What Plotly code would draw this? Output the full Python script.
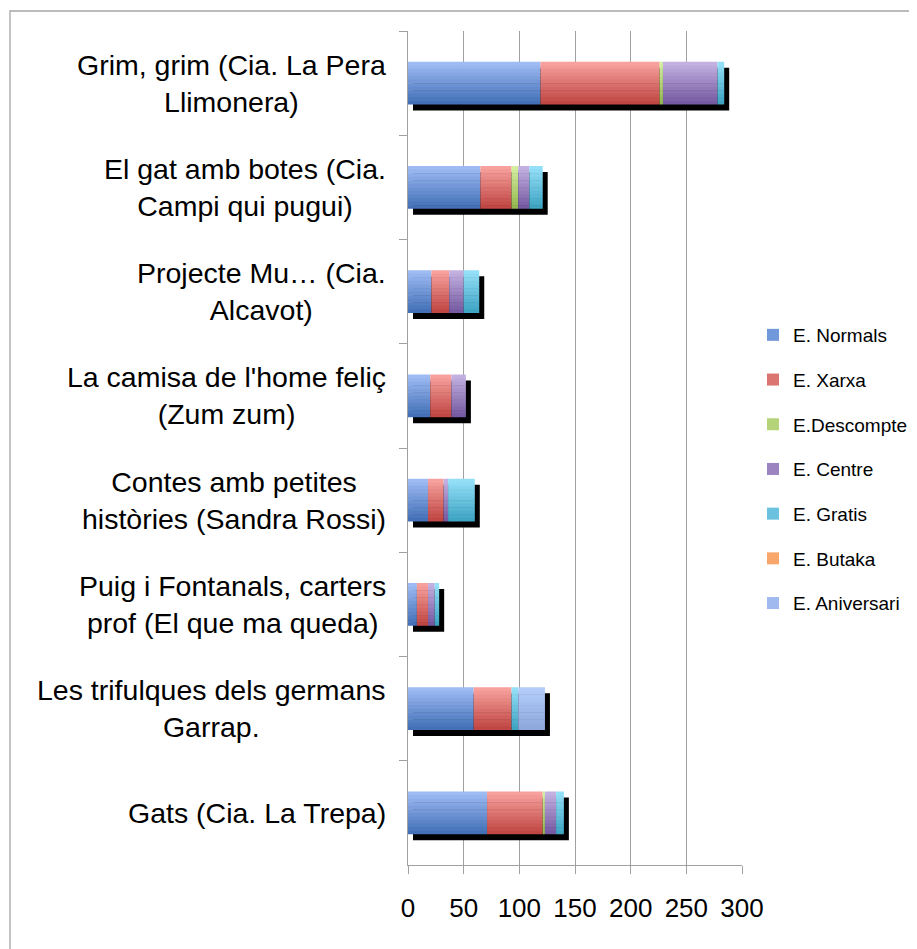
import numpy as np
import plotly.graph_objects as go

categories = [
    "Grim, grim (Cia. La Pera<br>Llimonera)",
    "El gat amb botes (Cia.<br>Campi qui pugui)",
    "Projecte Mu… (Cia.<br>Alcavot)",
    "La camisa de l'home feliç<br>(Zum zum)",
    "Contes amb petites<br>històries (Sandra Rossi)",
    "Puig i Fontanals, carters<br>prof (El que ma queda)",
    "Les trifulques dels germans<br>Garrap.",
    "Gats (Cia. La Trepa)",
]
series_names = ["E. Normals", "E. Xarxa", "E.Descompte", "E. Centre", "E. Gratis", "E. Butaka", "E. Aniversari"]
normals    = [119, 65, 21, 20, 18, 8, 59, 71]
xarxa      = [107, 28, 16, 19, 14, 10, 34, 50]
descompte  = [3, 6, 0, 0, 0, 0, 0, 2]
centre     = [49, 10, 13, 13, 4, 6, 0, 10]
gratis     = [6, 12, 14, 0, 24, 4, 6, 7]
butaka     = [0, 0, 0, 0, 0, 0, 0, 0]
aniversari = [0, 0, 0, 0, 0, 0, 24, 0]
x_ticks = [0, 50, 100, 150, 200, 250, 300]

series_values = [normals, xarxa, descompte, centre, gratis, butaka, aniversari]
top_colors = ["#A2BEF6", "#F9A4A1", "#D6F0A3", "#C6B5E3", "#98E2FA", "#FCC193", "#B5CEFB"]
bot_colors = ["#3F6DB4", "#BE433F", "#92B74C", "#72569F", "#3BA2C1", "#EE7E2E", "#8DA7DC"]
mid_colors = ["#7198DA", "#DB7572", "#B5D479", "#9C84C0", "#6AC2DE", "#F9A66A", "#A0B9EE"]

# page body has an 8px margin; the figure is sized to fit the window
OFF = 8
W, H = 917 - OFF, 949 - OFF
# plot area in screen pixels: x 408..742, y 31..865
L = 408 - OFF
T = 31 - OFF
R = W - (742 - OFF)
B = H - (865 - OFF)
plot_w = W - L - R
plot_h = H - T - B
xmax = 300
px_per_unit = plot_w / xmax
cat_px = plot_h / len(categories)
bar_w = 0.41
shadow_dx = 5 / px_per_unit
shadow_dy = 6 / cat_px
N_STRIPS = 12


def hex2rgb(h):
    h = h.lstrip("#")
    return np.array([int(h[i:i + 2], 16) for i in (0, 2, 4)], dtype=float)


def mix(c1, c2, t):
    c = hex2rgb(c1) * (1 - t) + hex2rgb(c2) * t
    return "rgb(%d,%d,%d)" % tuple(np.round(c).astype(int))


vals = np.array(series_values, dtype=float)
cum = np.vstack([np.zeros(vals.shape[1]), np.cumsum(vals, axis=0)[:-1]])
totals = vals.sum(axis=0)

fig = go.Figure()
# drop shadow
fig.add_trace(go.Bar(
    y=categories, x=totals, base=[shadow_dx] * len(categories), orientation="h",
    width=bar_w, offset=-bar_w / 2 + shadow_dy,
    marker=dict(color="black", line=dict(width=0)),
    showlegend=False, hoverinfo="skip",
))
strip = bar_w / N_STRIPS
for i, name in enumerate(series_names):
    for k in range(N_STRIPS):
        t = (k + 0.5) / N_STRIPS
        last = k == N_STRIPS - 1
        fig.add_trace(go.Bar(
            y=categories, x=vals[i], base=cum[i], orientation="h", name=name,
            width=strip * (1.0 if last else 1.15), offset=-bar_w / 2 + k * strip,
            marker=dict(color=mix(top_colors[i], bot_colors[i], t), line=dict(width=0)),
            legendgroup=name, showlegend=False, hoverinfo="skip",
        ))
    # legend entry
    fig.add_trace(go.Bar(
        y=[categories[0]], x=[0], orientation="h", name=name,
        marker=dict(color=mid_colors[i], line=dict(width=0)),
        legendgroup=name, showlegend=True, hoverinfo="skip",
    ))

for c in categories:
    fig.add_annotation(
        x=-20 / plot_w, xref="paper", y=c, yref="y", text=c, showarrow=False,
        xanchor="right", yanchor="middle", align="center",
        font=dict(family="Liberation Sans, Arial, sans-serif", size=28.5, color="black"),
    )

# outer border (screen 10,11 -> extends past the window)
fig.add_shape(type="rect", xref="paper", yref="paper",
              x0=(10 - OFF - L) / plot_w, x1=(W + 20 - L) / plot_w,
              y0=-(B + 20) / plot_h, y1=1 + (T - (11 - OFF)) / plot_h,
              line=dict(color="#A6A6A6", width=1.3), layer="below")

legend_left = 753 - OFF
legend_mid = 469 - OFF
fig.update_layout(
    width=W, height=H,
    margin=dict(l=L, r=R, t=T, b=B, autoexpand=False),
    paper_bgcolor="white", plot_bgcolor="white",
    barmode="overlay",
    font=dict(family="Liberation Sans, Arial, sans-serif", color="black"),
    legend=dict(
        x=(legend_left - L) / plot_w, xanchor="left",
        y=1 - (legend_mid - T) / plot_h, yanchor="middle",
        font=dict(size=19, color="black"), tracegroupgap=17,
        itemclick=False, bgcolor="rgba(0,0,0,0)",
    ),
    xaxis=dict(
        range=[0, xmax], tickvals=x_ticks, showgrid=True, gridcolor="#A0A0A0", gridwidth=1,
        showline=True, linecolor="#A0A0A0", linewidth=1.3, ticks="outside", ticklen=8,
        tickcolor="#A0A0A0", zeroline=False, tickfont=dict(size=26),
        ticklabelstandoff=12, fixedrange=True,
    ),
    yaxis=dict(
        categoryorder="array", categoryarray=categories, range=[len(categories) - 0.5, -0.5],
        showticklabels=False, showgrid=False, showline=True, linecolor="#A0A0A0",
        linewidth=1.3, ticks="outside", ticklen=8, tickcolor="#A0A0A0",
        tickson="boundaries", zeroline=False, fixedrange=True,
    ),
)

fig.write_html("out.html")
